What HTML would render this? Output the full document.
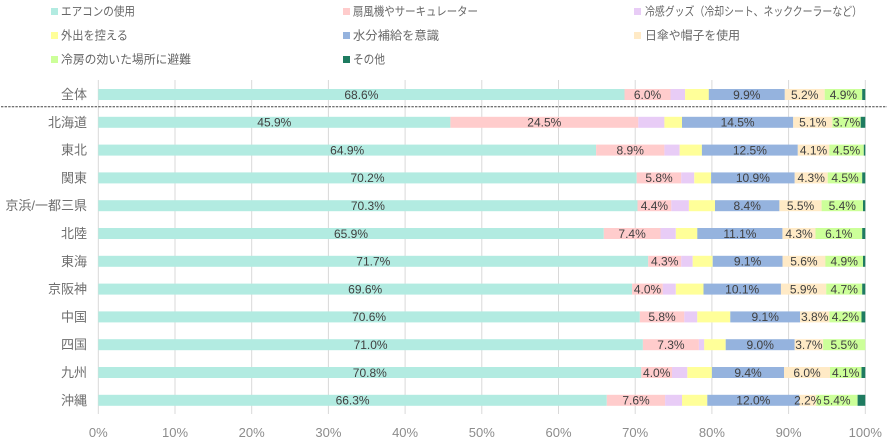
<!DOCTYPE html>
<html><head><meta charset="utf-8"><style>
html,body{margin:0;padding:0;background:#fff;}
svg{display:block;}
text{font-family:"Liberation Sans","Noto Sans CJK JP",sans-serif;}
.lg{font-size:12px;fill:#666;}
.cat{font-size:13px;fill:#6e6e6e;text-anchor:end;}
.tk{font-size:13px;fill:#8c8c8c;text-anchor:middle;}
.dl{font-size:12px;fill:#404040;text-anchor:middle;}
.t{fill:#B2EBE1}.p{fill:#FFCCCC}.l{fill:#E8CCF6}.y{fill:#FFFF99}.b{fill:#95B3DE}.c{fill:#FFEAC6}.g{fill:#CCFF99}.d{fill:#1E7B60}
</style></head><body>
<svg width="887" height="443" viewBox="0 0 887 443" xmlns="http://www.w3.org/2000/svg">
<!-- legend -->
<rect class="t" x="51" y="8" width="7" height="7"/><text class="lg" x="61" y="15.5" textLength="74" lengthAdjust="spacingAndGlyphs">エアコンの使用</text>
<rect class="p" x="343" y="8" width="7" height="7"/><text class="lg" x="353" y="15.5" textLength="125" lengthAdjust="spacingAndGlyphs">扇風機やサーキュレーター</text>
<rect class="l" x="634" y="8" width="7" height="7"/><text class="lg" x="645" y="15.5" textLength="217" lengthAdjust="spacingAndGlyphs">冷感グッズ（冷却シート、ネッククーラーなど）</text>
<rect class="y" x="51" y="32" width="7" height="7"/><text class="lg" x="61" y="39.5" textLength="67" lengthAdjust="spacingAndGlyphs">外出を控える</text>
<rect class="b" x="343" y="32" width="7" height="7"/><text class="lg" x="353" y="39.5" textLength="86" lengthAdjust="spacingAndGlyphs">水分補給を意識</text>
<rect class="c" x="634" y="32" width="7" height="7"/><text class="lg" x="645" y="39.5" textLength="95" lengthAdjust="spacingAndGlyphs">日傘や帽子を使用</text>
<rect class="g" x="51" y="56" width="7" height="7"/><text class="lg" x="61" y="63.5" textLength="130" lengthAdjust="spacingAndGlyphs">冷房の効いた場所に避難</text>
<rect class="d" x="343" y="56" width="7" height="7"/><text class="lg" x="353" y="63.5" textLength="32" lengthAdjust="spacingAndGlyphs">その他</text>

<!-- gridlines -->
<g stroke="#D9D9D9" stroke-width="1">
<line x1="98.3" y1="80" x2="98.3" y2="414"/>
<line x1="175" y1="80" x2="175" y2="414"/>
<line x1="251.7" y1="80" x2="251.7" y2="414"/>
<line x1="328.4" y1="80" x2="328.4" y2="414"/>
<line x1="405.1" y1="80" x2="405.1" y2="414"/>
<line x1="481.8" y1="80" x2="481.8" y2="414"/>
<line x1="558.5" y1="80" x2="558.5" y2="414"/>
<line x1="635.2" y1="80" x2="635.2" y2="414"/>
<line x1="711.9" y1="80" x2="711.9" y2="414"/>
<line x1="788.6" y1="80" x2="788.6" y2="414"/>
<line x1="865.3" y1="80" x2="865.3" y2="414"/>
</g>

<!-- tick labels -->
<text class="tk" x="98.3" y="437">0%</text>
<text class="tk" x="175" y="437">10%</text>
<text class="tk" x="251.7" y="437">20%</text>
<text class="tk" x="328.4" y="437">30%</text>
<text class="tk" x="405.1" y="437">40%</text>
<text class="tk" x="481.8" y="437">50%</text>
<text class="tk" x="558.5" y="437">60%</text>
<text class="tk" x="635.2" y="437">70%</text>
<text class="tk" x="711.9" y="437">80%</text>
<text class="tk" x="788.6" y="437">90%</text>
<text class="tk" x="865.3" y="437">100%</text>

<!-- dashed separator -->
<line x1="1" y1="106.7" x2="887" y2="106.7" stroke="#444" stroke-width="1" stroke-dasharray="2.4,1.2"/>

<!-- Row 0 全体 -->
<g transform="translate(0,94.5)">
<text class="cat" x="87" y="4.5">全体</text>
<rect class="t" x="98.3" y="-5.5" width="526.2" height="11"/><rect class="p" x="624.5" y="-5.5" width="46" height="11"/><rect class="l" x="670.5" y="-5.5" width="14.6" height="11"/><rect class="y" x="685.1" y="-5.5" width="23.8" height="11"/><rect class="b" x="708.8" y="-5.5" width="76" height="11"/><rect class="c" x="784.8" y="-5.5" width="39.9" height="11"/><rect class="g" x="824.7" y="-5.5" width="37.6" height="11"/><rect class="d" x="862.2" y="-5.5" width="3.1" height="11"/>
<text class="dl" x="361.4" y="4.3">68.6%</text><text class="dl" x="647.5" y="4.3">6.0%</text><text class="dl" x="746.8" y="4.3">9.9%</text><text class="dl" x="804.7" y="4.3">5.2%</text><text class="dl" x="843.4" y="4.3">4.9%</text>
</g>
<!-- Row 1 北海道 -->
<g transform="translate(0,122.3)">
<text class="cat" x="87" y="4.5">北海道</text>
<rect class="t" x="98.3" y="-5.5" width="352.1" height="11"/><rect class="p" x="450.4" y="-5.5" width="187.9" height="11"/><rect class="l" x="638.3" y="-5.5" width="26.1" height="11"/><rect class="y" x="664.4" y="-5.5" width="17.6" height="11"/><rect class="b" x="682" y="-5.5" width="111.2" height="11"/><rect class="c" x="793.2" y="-5.5" width="39.1" height="11"/><rect class="g" x="832.3" y="-5.5" width="28.4" height="11"/><rect class="d" x="860.7" y="-5.5" width="4.6" height="11"/>
<text class="dl" x="274.3" y="4.3">45.9%</text><text class="dl" x="544.3" y="4.3">24.5%</text><text class="dl" x="737.6" y="4.3">14.5%</text><text class="dl" x="812.8" y="4.3">5.1%</text><text class="dl" x="846.5" y="4.3">3.7%</text>
</g>
<!-- Row 2 東北 -->
<g transform="translate(0,150.1)">
<text class="cat" x="87" y="4.5">東北</text>
<rect class="t" x="98.3" y="-5.5" width="497.8" height="11"/><rect class="p" x="596.1" y="-5.5" width="68.3" height="11"/><rect class="l" x="664.4" y="-5.5" width="15.3" height="11"/><rect class="y" x="679.7" y="-5.5" width="22.2" height="11"/><rect class="b" x="701.9" y="-5.5" width="95.9" height="11"/><rect class="c" x="797.8" y="-5.5" width="31.5" height="11"/><rect class="g" x="829.3" y="-5.5" width="34.5" height="11"/><rect class="d" x="863.8" y="-5.5" width="1.5" height="11"/>
<text class="dl" x="347.2" y="4.3">64.9%</text><text class="dl" x="630.2" y="4.3">8.9%</text><text class="dl" x="749.9" y="4.3">12.5%</text><text class="dl" x="813.5" y="4.3">4.1%</text><text class="dl" x="846.5" y="4.3">4.5%</text>
</g>
<!-- Row 3 関東 -->
<g transform="translate(0,177.9)">
<text class="cat" x="87" y="4.5">関東</text>
<rect class="t" x="98.3" y="-5.5" width="538.4" height="11"/><rect class="p" x="636.7" y="-5.5" width="44.5" height="11"/><rect class="l" x="681.2" y="-5.5" width="13" height="11"/><rect class="y" x="694.3" y="-5.5" width="16.9" height="11"/><rect class="b" x="711.1" y="-5.5" width="83.6" height="11"/><rect class="c" x="794.7" y="-5.5" width="33" height="11"/><rect class="g" x="827.7" y="-5.5" width="34.5" height="11"/><rect class="d" x="862.2" y="-5.5" width="3.1" height="11"/>
<text class="dl" x="367.5" y="4.3">70.2%</text><text class="dl" x="659" y="4.3">5.8%</text><text class="dl" x="752.9" y="4.3">10.9%</text><text class="dl" x="811.2" y="4.3">4.3%</text><text class="dl" x="845" y="4.3">4.5%</text>
</g>
<!-- Row 4 京浜/一都三県 -->
<g transform="translate(0,205.7)">
<text class="cat" x="87" y="4.5">京浜/一都三県</text>
<rect class="t" x="98.3" y="-5.5" width="539.2" height="11"/><rect class="p" x="637.5" y="-5.5" width="33.8" height="11"/><rect class="l" x="671.3" y="-5.5" width="17.6" height="11"/><rect class="y" x="688.9" y="-5.5" width="26.1" height="11"/><rect class="b" x="715" y="-5.5" width="64.4" height="11"/><rect class="c" x="779.4" y="-5.5" width="42.2" height="11"/><rect class="g" x="821.6" y="-5.5" width="41.4" height="11"/><rect class="d" x="863" y="-5.5" width="2.3" height="11"/>
<text class="dl" x="367.9" y="4.3">70.3%</text><text class="dl" x="654.4" y="4.3">4.4%</text><text class="dl" x="747.2" y="4.3">8.4%</text><text class="dl" x="800.5" y="4.3">5.5%</text><text class="dl" x="842.3" y="4.3">5.4%</text>
</g>
<!-- Row 5 北陸 -->
<g transform="translate(0,233.5)">
<text class="cat" x="87" y="4.5">北陸</text>
<rect class="t" x="98.3" y="-5.5" width="505.5" height="11"/><rect class="p" x="603.8" y="-5.5" width="56.8" height="11"/><rect class="l" x="660.5" y="-5.5" width="15.3" height="11"/><rect class="y" x="675.9" y="-5.5" width="21.5" height="11"/><rect class="b" x="697.3" y="-5.5" width="85.1" height="11"/><rect class="c" x="782.5" y="-5.5" width="33" height="11"/><rect class="g" x="815.5" y="-5.5" width="46.8" height="11"/><rect class="d" x="862.2" y="-5.5" width="3.1" height="11"/>
<text class="dl" x="351" y="4.3">65.9%</text><text class="dl" x="632.1" y="4.3">7.4%</text><text class="dl" x="739.9" y="4.3">11.1%</text><text class="dl" x="799" y="4.3">4.3%</text><text class="dl" x="838.8" y="4.3">6.1%</text>
</g>
<!-- Row 6 東海 -->
<g transform="translate(0,261.3)">
<text class="cat" x="87" y="4.5">東海</text>
<rect class="t" x="98.3" y="-5.5" width="549.9" height="11"/><rect class="p" x="648.2" y="-5.5" width="33" height="11"/><rect class="l" x="681.2" y="-5.5" width="11.5" height="11"/><rect class="y" x="692.7" y="-5.5" width="19.9" height="11"/><rect class="b" x="712.7" y="-5.5" width="69.8" height="11"/><rect class="c" x="782.5" y="-5.5" width="43" height="11"/><rect class="g" x="825.4" y="-5.5" width="37.6" height="11"/><rect class="d" x="863" y="-5.5" width="2.3" height="11"/>
<text class="dl" x="373.3" y="4.3">71.7%</text><text class="dl" x="664.7" y="4.3">4.3%</text><text class="dl" x="747.6" y="4.3">9.1%</text><text class="dl" x="803.9" y="4.3">5.6%</text><text class="dl" x="844.2" y="4.3">4.9%</text>
</g>
<!-- Row 7 京阪神 -->
<g transform="translate(0,289.1)">
<text class="cat" x="87" y="4.5">京阪神</text>
<rect class="t" x="98.3" y="-5.5" width="533.8" height="11"/><rect class="p" x="632.1" y="-5.5" width="30.7" height="11"/><rect class="l" x="662.8" y="-5.5" width="13" height="11"/><rect class="y" x="675.9" y="-5.5" width="27.6" height="11"/><rect class="b" x="703.5" y="-5.5" width="77.5" height="11"/><rect class="c" x="780.9" y="-5.5" width="45.3" height="11"/><rect class="g" x="826.2" y="-5.5" width="36" height="11"/><rect class="d" x="862.2" y="-5.5" width="3.1" height="11"/>
<text class="dl" x="365.2" y="4.3">69.6%</text><text class="dl" x="647.5" y="4.3">4.0%</text><text class="dl" x="742.2" y="4.3">10.1%</text><text class="dl" x="803.6" y="4.3">5.9%</text><text class="dl" x="844.2" y="4.3">4.7%</text>
</g>
<!-- Row 8 中国 -->
<g transform="translate(0,316.9)">
<text class="cat" x="87" y="4.5">中国</text>
<rect class="t" x="98.3" y="-5.5" width="541.5" height="11"/><rect class="p" x="639.8" y="-5.5" width="44.5" height="11"/><rect class="l" x="684.3" y="-5.5" width="13" height="11"/><rect class="y" x="697.3" y="-5.5" width="33" height="11"/><rect class="b" x="730.3" y="-5.5" width="69.8" height="11"/><rect class="c" x="800.1" y="-5.5" width="29.1" height="11"/><rect class="g" x="829.3" y="-5.5" width="32.2" height="11"/><rect class="d" x="861.5" y="-5.5" width="3.8" height="11"/>
<text class="dl" x="369.1" y="4.3">70.6%</text><text class="dl" x="662" y="4.3">5.8%</text><text class="dl" x="765.2" y="4.3">9.1%</text><text class="dl" x="814.7" y="4.3">3.8%</text><text class="dl" x="845.4" y="4.3">4.2%</text>
</g>
<!-- Row 9 四国 -->
<g transform="translate(0,344.7)">
<text class="cat" x="87" y="4.5">四国</text>
<rect class="t" x="98.3" y="-5.5" width="544.6" height="11"/><rect class="p" x="642.9" y="-5.5" width="56" height="11"/><rect class="l" x="698.9" y="-5.5" width="5.4" height="11"/><rect class="y" x="704.2" y="-5.5" width="21.5" height="11"/><rect class="b" x="725.7" y="-5.5" width="69" height="11"/><rect class="c" x="794.7" y="-5.5" width="28.4" height="11"/><rect class="g" x="823.1" y="-5.5" width="42.2" height="11"/>
<text class="dl" x="370.6" y="4.3">71.0%</text><text class="dl" x="670.9" y="4.3">7.3%</text><text class="dl" x="760.2" y="4.3">9.0%</text><text class="dl" x="808.9" y="4.3">3.7%</text><text class="dl" x="844.2" y="4.3">5.5%</text>
</g>
<!-- Row 10 九州 -->
<g transform="translate(0,372.5)">
<text class="cat" x="87" y="4.5">九州</text>
<rect class="t" x="98.3" y="-5.5" width="543" height="11"/><rect class="p" x="641.3" y="-5.5" width="30.7" height="11"/><rect class="l" x="672" y="-5.5" width="15.3" height="11"/><rect class="y" x="687.4" y="-5.5" width="24.5" height="11"/><rect class="b" x="711.9" y="-5.5" width="72.1" height="11"/><rect class="c" x="784" y="-5.5" width="46" height="11"/><rect class="g" x="830" y="-5.5" width="31.4" height="11"/><rect class="d" x="861.5" y="-5.5" width="3.8" height="11"/>
<text class="dl" x="369.8" y="4.3">70.8%</text><text class="dl" x="656.7" y="4.3">4.0%</text><text class="dl" x="748" y="4.3">9.4%</text><text class="dl" x="807" y="4.3">6.0%</text><text class="dl" x="845.7" y="4.3">4.1%</text>
</g>
<!-- Row 11 沖縄 -->
<g transform="translate(0,400.3)">
<text class="cat" x="87" y="4.5">沖縄</text>
<rect class="t" x="98.3" y="-5.5" width="508.5" height="11"/><rect class="p" x="606.8" y="-5.5" width="58.3" height="11"/><rect class="l" x="665.1" y="-5.5" width="16.9" height="11"/><rect class="y" x="682" y="-5.5" width="25.3" height="11"/><rect class="b" x="707.3" y="-5.5" width="92" height="11"/><rect class="c" x="799.3" y="-5.5" width="16.9" height="11"/><rect class="g" x="816.2" y="-5.5" width="41.4" height="11"/><rect class="d" x="857.6" y="-5.5" width="7.7" height="11"/>
<text class="dl" x="352.6" y="4.3">66.3%</text><text class="dl" x="636" y="4.3">7.6%</text><text class="dl" x="753.3" y="4.3">12.0%</text><text class="dl" x="807.8" y="4.3">2.2%</text><text class="dl" x="836.9" y="4.3">5.4%</text>
</g>
</svg>
</body></html>
